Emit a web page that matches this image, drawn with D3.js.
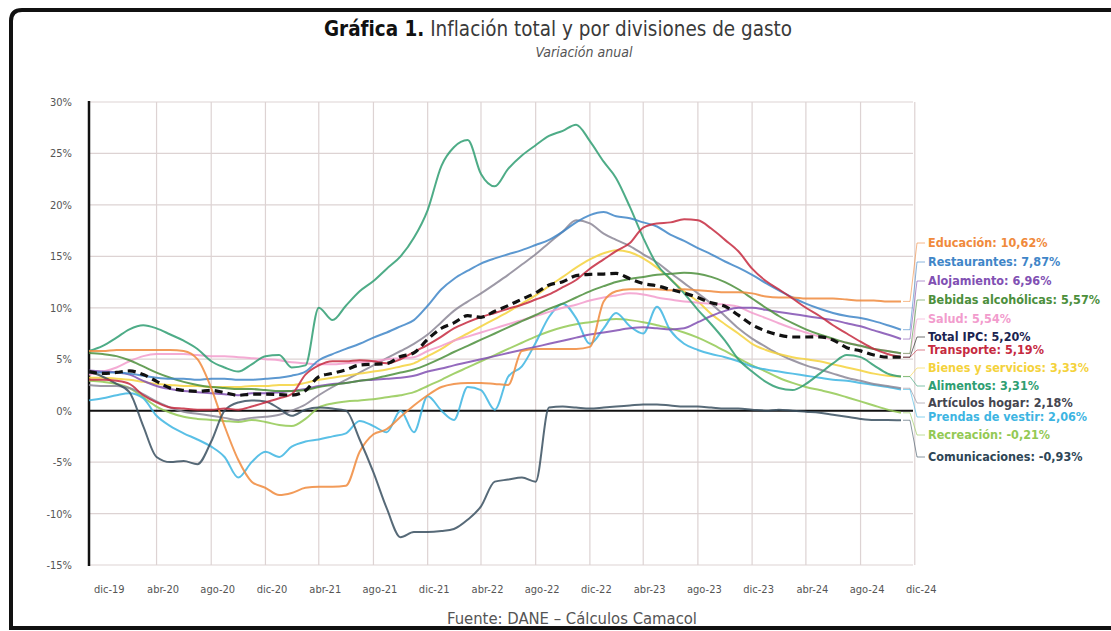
<!DOCTYPE html>
<html lang="es">
<head>
<meta charset="UTF-8">
<script src="https://cdn.jsdelivr.net/npm/d3@7"></script>
<style>
  body { margin: 0; background: #fff; }
  text { font-family: 'Liberation Sans Narrow', 'DejaVu Sans Condensed', sans-serif; }
</style>
</head>
<body>
<svg id="chart" width="1111" height="631"></svg>
<script>
// Etiquetas del eje x (cada 4 meses) y del eje y
const xTickLabels = ["dic-19","abr-20","ago-20","dic-20","abr-21","ago-21","dic-21","abr-22","ago-22","dic-22","abr-23","ago-23","dic-23","abr-24","ago-24","dic-24"];
const yTicks = [30, 25, 20, 15, 10, 5, 0, -5, -10, -15];

// Variación anual (%), mensual dic-19 .. dic-24
const totalIPC = [3.80,3.62,3.72,3.86,3.51,2.85,2.19,1.97,1.88,1.97,1.75,1.49,1.61,
  1.60,1.56,1.51,1.95,3.30,3.63,3.97,4.44,4.51,4.58,5.26,5.62,
  6.94,8.01,8.53,9.23,9.07,9.67,10.21,10.84,11.44,12.22,12.53,13.12,
  13.25,13.28,13.34,12.82,12.36,12.13,11.78,11.43,10.99,10.48,10.15,9.28,
  8.35,7.74,7.36,7.16,7.16,7.18,6.86,6.12,5.81,5.41,5.20,5.20];
const educacion = [5.8,5.8,5.9,5.9,5.9,5.9,5.9,5.8,5.0,2.2,-1.5,-4.8,-6.9,
  -7.5,-8.2,-8.0,-7.5,-7.4,-7.4,-7.3,-4.0,-2.3,-1.8,-0.6,0.5,
  1.5,2.3,2.6,2.7,2.7,2.6,2.5,5.8,6.0,6.0,6.0,6.0,
  6.2,10.6,11.6,11.8,11.8,11.8,11.7,11.8,11.7,11.6,11.5,11.5,
  11.4,11.1,11.0,11.0,10.9,10.9,10.9,10.8,10.7,10.7,10.6,10.62];
const restaurantes = [3.7,3.7,3.7,3.6,3.4,3.2,3.1,3.1,3.0,3.1,3.1,3.0,3.0,
  3.1,3.2,3.4,3.8,4.9,5.5,6.0,6.5,7.1,7.6,8.2,8.8,
  10.2,11.8,12.8,13.6,14.3,14.8,15.2,15.6,16.1,16.6,17.4,18.3,
  19.0,19.3,18.9,18.7,18.3,17.9,17.1,16.5,15.8,15.2,14.5,13.9,
  13.2,12.4,11.7,11.0,10.4,9.9,9.5,9.2,9.0,8.7,8.3,7.87];
const alojamiento = [3.9,3.8,3.7,3.5,2.9,2.4,2.1,1.9,1.8,1.7,1.6,1.5,1.7,
  1.7,1.8,1.9,2.1,2.4,2.6,2.7,2.9,3.0,3.1,3.2,3.4,
  3.8,4.1,4.4,4.7,5.0,5.3,5.6,5.9,6.2,6.5,6.8,7.1,
  7.4,7.6,7.8,8.0,8.1,8.0,7.9,8.0,8.6,9.2,9.7,10.0,
  10.0,9.8,9.6,9.4,9.2,9.0,8.8,8.5,8.2,7.8,7.4,6.96];
const bebidas = [5.6,5.5,5.3,4.9,4.3,3.7,3.2,2.8,2.5,2.3,2.2,2.1,2.1,
  2.0,1.9,1.9,2.0,2.3,2.5,2.7,2.9,3.1,3.4,3.7,4.0,
  4.5,5.1,5.7,6.3,6.9,7.5,8.1,8.7,9.3,9.9,10.4,11.0,
  11.6,12.1,12.5,12.8,13.0,13.2,13.3,13.4,13.3,13.0,12.5,11.8,
  10.9,10.0,9.2,8.5,7.9,7.4,7.0,6.6,6.3,6.0,5.8,5.57];
const salud = [3.5,3.8,4.2,4.8,5.3,5.5,5.5,5.5,5.4,5.3,5.3,5.2,5.1,
  5.0,4.9,4.7,4.6,4.5,4.5,4.6,4.7,4.8,5.0,5.1,5.2,
  5.8,6.3,6.8,7.2,7.6,8.0,8.4,8.8,9.2,9.6,10.0,10.3,
  10.7,11.0,11.2,11.4,11.3,11.0,10.8,10.6,10.5,10.4,10.3,10.1,
  9.5,9.0,8.5,8.0,7.6,7.2,6.9,6.6,6.3,6.0,5.8,5.54];
const transporte = [3.0,3.0,2.9,2.6,1.5,0.8,0.3,0.2,0.1,0.1,0.2,0.1,0.4,
  0.8,1.2,1.6,3.5,4.4,4.8,4.8,4.9,4.8,4.6,5.0,5.7,
  6.4,7.2,8.0,8.6,9.1,9.5,9.9,10.3,10.8,11.3,12.0,12.7,
  13.8,14.7,15.5,16.3,17.8,18.2,18.3,18.6,18.5,17.7,16.6,15.5,
  13.8,12.6,11.8,10.9,10.0,9.2,8.3,7.5,6.7,6.0,5.5,5.19];
const bienes = [3.2,3.2,3.1,3.0,2.8,2.6,2.5,2.4,2.4,2.3,2.3,2.3,2.4,
  2.4,2.5,2.5,2.7,3.0,3.2,3.4,3.6,3.8,4.0,4.3,4.6,
  5.3,6.0,6.8,7.5,8.2,8.9,9.6,10.4,11.2,12.1,13.0,13.9,
  14.7,15.3,15.6,15.4,14.8,13.9,12.8,11.6,10.6,9.4,8.4,7.5,
  6.5,5.9,5.5,5.2,5.0,4.8,4.5,4.2,3.9,3.6,3.4,3.33];
const alimentos = [5.8,6.3,7.1,7.9,8.3,8.0,7.4,6.8,6.0,4.8,4.2,3.8,4.5,
  5.3,5.4,4.2,4.4,10.0,8.8,10.2,11.6,12.6,13.8,15.0,16.8,
  19.5,23.8,25.6,26.3,23.0,21.8,23.5,24.8,25.8,26.7,27.2,27.8,
  26.2,24.2,22.6,19.8,16.8,14.2,12.8,11.4,9.8,8.4,6.8,5.0,
  3.8,2.8,2.2,2.0,2.6,3.6,4.6,5.4,5.2,4.4,3.6,3.31];
const articulos = [2.5,2.4,2.4,2.2,1.6,0.9,0.3,-0.1,-0.3,-0.5,-0.7,-0.9,-0.7,
  -0.6,-0.4,0.0,0.6,1.5,2.3,3.0,3.7,4.4,5.1,5.8,6.5,
  7.4,8.6,9.7,10.6,11.4,12.3,13.2,14.2,15.2,16.3,17.4,18.5,
  18.2,17.2,16.6,16.0,15.2,14.4,13.4,12.4,11.4,10.4,9.2,8.0,
  7.0,6.2,5.5,4.9,4.4,4.0,3.6,3.2,2.9,2.6,2.4,2.18];
const prendas = [1.0,1.2,1.5,1.7,1.2,-0.5,-1.5,-2.2,-2.8,-3.5,-4.5,-6.5,-5.0,
  -4.0,-4.5,-3.5,-3.0,-2.8,-2.5,-2.2,-1.0,-1.5,-2.1,0.0,-2.1,
  1.4,0.0,-0.9,2.3,2.0,0.1,3.3,4.3,6.6,9.1,10.4,9.0,
  6.5,8.0,9.5,8.2,7.5,10.1,7.8,6.5,5.9,5.5,5.2,4.8,
  4.3,4.0,3.8,3.6,3.4,3.2,3.0,2.9,2.7,2.5,2.3,2.06];
const recreacion = [2.9,2.8,2.6,2.2,1.3,0.4,-0.2,-0.6,-0.8,-0.9,-1.0,-1.1,-0.9,
  -1.1,-1.4,-1.5,-0.8,0.3,0.7,0.9,1.0,1.1,1.3,1.5,1.8,
  2.4,3.0,3.6,4.2,4.8,5.4,6.0,6.6,7.2,7.7,8.1,8.4,
  8.6,8.8,8.9,8.8,8.6,8.3,8.0,7.6,7.1,6.5,5.8,5.1,
  4.4,3.8,3.2,2.7,2.3,2.0,1.7,1.3,0.9,0.5,0.1,-0.21];
const comunicaciones = [3.8,3.3,2.6,1.8,-1.5,-4.5,-5.0,-4.9,-5.2,-3.0,0.0,0.8,1.0,
  0.9,0.2,-0.5,0.1,0.3,0.2,0.0,-2.8,-6.0,-9.5,-12.3,-11.8,
  -11.8,-11.7,-11.5,-10.6,-9.3,-6.9,-6.7,-6.5,-6.9,0.3,0.4,0.3,
  0.2,0.3,0.4,0.5,0.6,0.6,0.5,0.4,0.4,0.3,0.2,0.2,
  0.1,0.0,0.1,0.0,-0.1,-0.2,-0.4,-0.6,-0.8,-0.9,-0.9,-0.93];

// orden de dibujo (el total va encima)
const series = [
  { label: "Recreación: -0,21%", values: recreacion, color: "#93c954", ly: 435 },
  { label: "Prendas de vestir: 2,06%", values: prendas, color: "#3db5e2", ly: 417 },
  { label: "Artículos hogar: 2,18%", values: articulos, color: "#8c8796", text: "#45454f", ly: 403 },
  { label: "Bienes y servicios: 3,33%", values: bienes, color: "#f4d23c", ly: 368 },
  { label: "Salud: 5,54%", values: salud, color: "#f29ccd", ly: 319 },
  { label: "Alojamiento: 6,96%", values: alojamiento, color: "#8150b3", ly: 281 },
  { label: "Bebidas alcohólicas: 5,57%", values: bebidas, color: "#4c8f3c", ly: 300 },
  { label: "Alimentos: 3,31%", values: alimentos, color: "#2f9e72", ly: 386 },
  { label: "Restaurantes: 7,87%", values: restaurantes, color: "#3f86c8", ly: 262 },
  { label: "Educación: 10,62%", values: educacion, color: "#f08a3c", ly: 243 },
  { label: "Comunicaciones: -0,93%", values: comunicaciones, color: "#3a5060", text: "#2e4656", ly: 457 },
  { label: "Transporte: 5,19%", values: transporte, color: "#c62a3f", ly: 350 },
  { label: "Total IPC: 5,20%", values: totalIPC, color: "#111", text: "#1b2450", ly: 337, dash: true }
];

const svg = d3.select("#chart");
const months = d3.timeMonth.range(new Date(2019, 11, 1), new Date(2025, 0, 1));
const x = d3.scaleTime().domain([months[0], months[months.length - 1]]).range([89, 901]);
const y = d3.scaleLinear().domain([-15, 30]).range([565, 102]);
const xRight = 913;

// marco
svg.append("path")
  .attr("d", "M1120,10 L22,10 Q11,10 11,21 L11,628 L1120,628")
  .attr("fill", "none").attr("stroke", "#111").attr("stroke-width", 4);

// titulo
const title = svg.append("text").attr("x", 324).attr("y", 36)
  .attr("font-size", 21).attr("fill", "#3a3a3a")
  .attr("textLength", 468).attr("lengthAdjust", "spacingAndGlyphs");
title.append("tspan").attr("font-weight", "bold").attr("fill", "#111").text("Gráfica 1.");
title.append("tspan").text(" Inflación total y por divisiones de gasto");
svg.append("text").attr("x", 584).attr("y", 57).attr("text-anchor", "middle")
  .attr("font-size", 14).attr("font-style", "italic").attr("fill", "#555")
  .text("Variación anual");

// rejilla
const grid = svg.append("g").attr("stroke", "#ddd3d3").attr("stroke-width", 1.2);
grid.selectAll("line.h").data(yTicks).join("line")
  .attr("x1", 89).attr("x2", xRight)
  .attr("y1", d => y(d)).attr("y2", d => y(d));
const xTicks = d3.timeMonth.every(4).range(months[0], new Date(2025, 0, 2));
grid.selectAll("line.v").data(xTicks.slice(1)).join("line")
  .attr("x1", d => x(d)).attr("x2", d => x(d))
  .attr("y1", y(30)).attr("y2", y(-15));

// ejes con etiquetas
const yAxis = svg.append("g").attr("transform", "translate(89,0)")
  .call(d3.axisLeft(y).tickValues(yTicks).tickSize(0).tickPadding(17).tickFormat(d => d + "%"));
yAxis.select(".domain").remove();
yAxis.selectAll("text").attr("font-size", 11).attr("fill", "#555");

const xAxis = svg.append("g").attr("transform", "translate(6," + y(-15) + ")")
  .call(d3.axisBottom(x).tickValues(xTicks).tickSize(0).tickPadding(20)
    .tickFormat((d, i) => xTickLabels[i]));
xAxis.select(".domain").remove();
xAxis.selectAll("text").attr("font-size", 11).attr("fill", "#555");

svg.append("line").attr("x1", 89).attr("x2", 89).attr("y1", y(30) - 1).attr("y2", y(-15) + 1)
  .attr("stroke", "#111").attr("stroke-width", 2.5);
svg.append("line").attr("x1", 89).attr("x2", xRight).attr("y1", y(0)).attr("y2", y(0))
  .attr("stroke", "#111").attr("stroke-width", 2);

// lineas
const line = d3.line().x((d, i) => x(months[i])).y(d => y(d)).curve(d3.curveMonotoneX);
svg.append("g").selectAll("path").data(series).join("path")
  .attr("d", d => line(d.values))
  .attr("fill", "none")
  .attr("stroke", d => d.color)
  .attr("stroke-width", d => d.dash ? 3.2 : 2)
  .attr("stroke-dasharray", d => d.dash ? "8,5" : null)
  .attr("stroke-opacity", d => d.dash ? 1 : 0.85);

// leyenda a la derecha con lineas guia
const xEnd = x(months[months.length - 1]);
svg.append("g").selectAll("path").data(series).join("path")
  .attr("d", d => {
    const y0 = y(d.values[d.values.length - 1]);
    return `M${xEnd + 2},${y0} L${xEnd + 9},${y0} L${xEnd + 16},${d.ly} L${xEnd + 24},${d.ly}`;
  })
  .attr("fill", "none").attr("stroke", d => d.color).attr("stroke-opacity", 0.6).attr("stroke-width", 1);

svg.append("g").selectAll("text").data(series).join("text")
  .attr("x", 928).attr("y", d => d.ly).attr("dy", "0.35em")
  .attr("font-size", 12.5).attr("font-weight", "bold")
  .attr("fill", d => d.text || d.color)
  .text(d => d.label);

// fuente
svg.append("text").attr("x", 447).attr("y", 624)
  .attr("font-size", 16).attr("fill", "#555")
  .attr("textLength", 250).attr("lengthAdjust", "spacingAndGlyphs")
  .text("Fuente: DANE – Cálculos Camacol");
</script>
</body>
</html>
